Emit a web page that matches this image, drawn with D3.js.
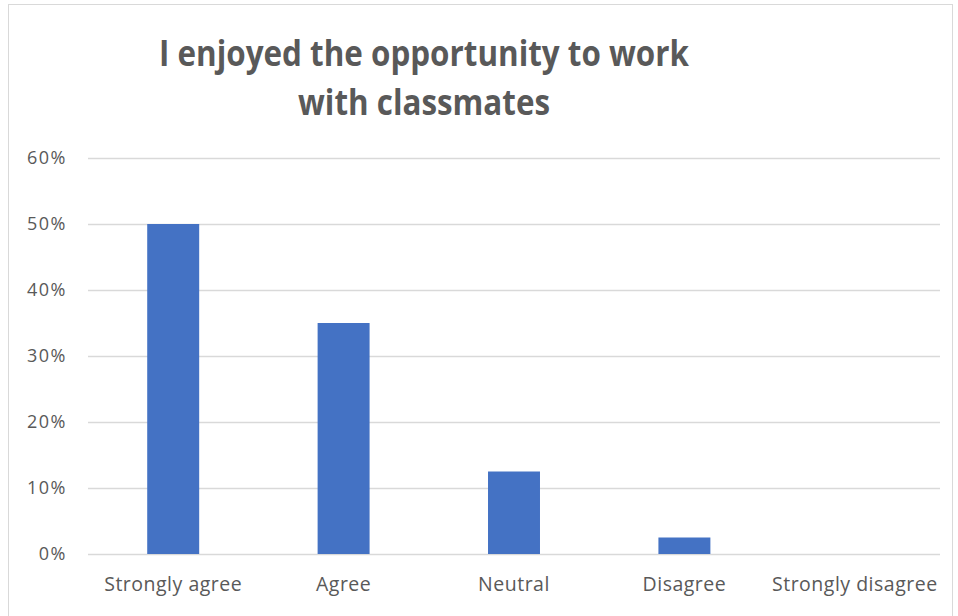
<!DOCTYPE html>
<html>
<head>
<meta charset="utf-8">
<script src="https://cdn.jsdelivr.net/npm/d3@7/dist/d3.min.js"></script>
<style>
  html, body { margin: 0; padding: 0; background: #fff; }
  svg { display: block; }
</style>
</head>
<body>
<svg id="chart" width="958" height="616"></svg>
<script>
// Survey responses: share of students per answer
const categories = ["Strongly agree", "Agree", "Neutral", "Disagree", "Strongly disagree"];
const values = [0.50, 0.35, 0.125, 0.025, 0];
const yTicks = [0, 0.1, 0.2, 0.3, 0.4, 0.5, 0.6];
const titleLines = ["I enjoyed the opportunity to work", "with classmates"];

const svg = d3.select("#chart");
const plot = { left: 88, right: 940, top: 158, bottom: 554 };
const textColor = "#595959";
const font = "'Open Sans', 'Noto Sans', sans-serif";

// chart area frame
svg.append("rect")
  .attr("x", 8.5).attr("y", 4.5)
  .attr("width", 944).attr("height", 620)
  .attr("fill", "#fff")
  .attr("stroke", "#d9d9d9").attr("stroke-width", 1);

const x = d3.scaleBand()
  .domain(categories)
  .range([plot.left, plot.right])
  .paddingInner(0.695)
  .paddingOuter(0.3475);

const y = d3.scaleLinear()
  .domain([0, 0.6])
  .range([plot.bottom, plot.top]);

// horizontal gridlines + percent labels
const yAxis = d3.axisLeft(y)
  .tickValues(yTicks)
  .tickFormat(d3.format(".0%"))
  .tickSize(-(plot.right - plot.left))
  .tickPadding(21);

const gy = svg.append("g")
  .attr("transform", `translate(${plot.left},0)`)
  .call(yAxis);
gy.select(".domain").remove();
gy.selectAll(".tick line").attr("stroke", "#d9d9d9").attr("stroke-width", 1.3);
gy.selectAll(".tick text")
  .attr("fill", textColor)
  .style("font-family", font)
  .style("font-size", "18px")
  .style("letter-spacing", "1.5px");

// bars
svg.append("g")
  .selectAll("rect")
  .data(categories.map((c, i) => ({ c, v: values[i] })))
  .join("rect")
  .attr("x", d => x(d.c))
  .attr("width", x.bandwidth())
  .attr("y", d => y(d.v))
  .attr("height", d => y(0) - y(d.v))
  .attr("fill", "#4472c4");

// category labels
const xAxis = d3.axisBottom(x).tickSize(0).tickPadding(23);
const gx = svg.append("g")
  .attr("transform", `translate(0,${plot.bottom})`)
  .call(xAxis);
gx.select(".domain").remove();
gx.selectAll(".tick text")
  .attr("fill", textColor)
  .style("font-family", font)
  .style("font-size", "19.5px")
  .style("letter-spacing", "0.5px");

// title
const titleLen = [530, 252];
svg.append("g")
  .selectAll("text")
  .data(titleLines)
  .join("text")
  .attr("x", 424)
  .attr("y", (d, i) => 66 + i * 49)
  .attr("text-anchor", "middle")
  .attr("textLength", (d, i) => titleLen[i])
  .attr("lengthAdjust", "spacingAndGlyphs")
  .attr("fill", textColor)
  .style("font-family", font)
  .style("font-weight", "bold")
  .style("font-size", "35px")
  .text(d => d);
</script>
</body>
</html>
